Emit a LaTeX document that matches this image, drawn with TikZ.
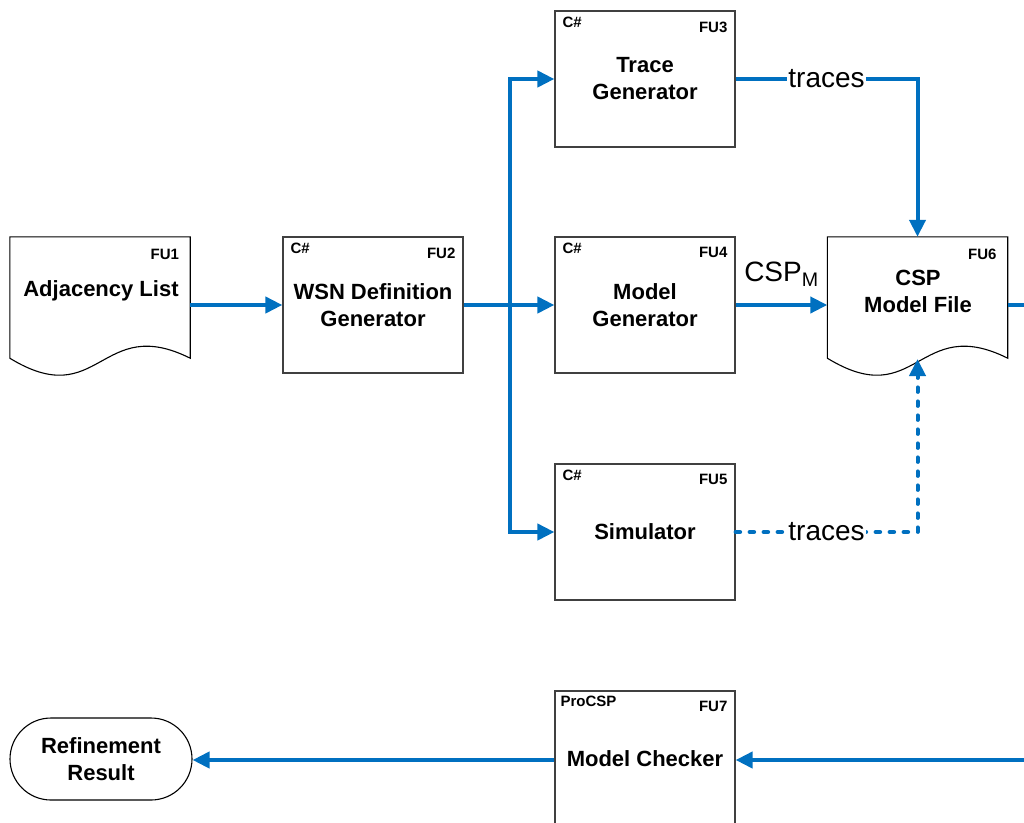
\documentclass[tikz,border=0pt]{standalone}
\usepackage{fontspec}
\setmainfont{Liberation Sans}
\usetikzlibrary{arrows.meta}
\definecolor{flowblue}{HTML}{0070C0}
\definecolor{edgegray}{HTML}{404040}

\begin{document}
\begin{tikzpicture}[x=1pt,y=-1pt,
  unit/.style={draw=edgegray, line width=1.2pt, minimum width=180pt, minimum height=136pt,
    inner sep=0pt, align=center, font=\bfseries\fontsize{22}{27}\selectfont},
  docarea/.style={minimum width=180pt, minimum height=121pt, inner sep=0pt},
  docline/.style={draw=black, line width=1.1pt},
  doctext/.style={align=center, inner sep=0pt, font=\bfseries\fontsize{22}{27}\selectfont},
  tag/.style={inner sep=0pt, font=\bfseries\fontsize{15}{18}\selectfont},
  flow/.style={draw=flowblue, line width=4pt, -{Triangle[length=17pt,width=16pt]}},
  link/.style={draw=flowblue, line width=4pt},
  dotflow/.style={flow, line cap=round, dash pattern=on 4.5pt off 9.5pt},
  lbl/.style={fill=white, inner sep=1pt, font=\fontsize{28}{32}\selectfont},
]
\useasboundingbox (0,0) rectangle (1024,822);
\clip (0,0) rectangle (1024,822);

% ---- document shapes (wavy bottom) ----
\node[docarea] (fu1) at (100,297.5) {};
\draw[docline] (fu1.south east) .. controls +(-90,-45) and +(90,55) .. (fu1.south west)
  -- (fu1.north west) -- (fu1.north east) -- cycle;
\node[doctext] (fu1t) at (101,291) {Adjacency List};
\node[tag, anchor=north east] (fu1tag) at ([shift={(-11,12)}]fu1.north east) {FU1};

\node[docarea] (fu6) at (917.5,297.5) {};
\draw[docline] (fu6.south east) .. controls +(-90,-45) and +(90,55) .. (fu6.south west)
  -- (fu6.north west) -- (fu6.north east) -- cycle;
\node[doctext] (fu6t) at (918,291) {CSP\\Model File};
\node[tag, anchor=north east] (fu6tag) at ([shift={(-11,12)}]fu6.north east) {FU6};
\coordinate (fu6in) at (917.5,359);

% ---- processing units ----
\node[unit] (fu2) at (373,305) {WSN Definition\\Generator};
\node[unit] (fu3) at (645,79) {Trace\\Generator};
\node[unit] (fu4) at (645,305) {Model\\Generator};
\node[unit] (fu5) at (645,532) {Simulator};
\node[unit] (fu7) at (645,759) {Model Checker};

\foreach \u/\t in {fu2/FU2,fu3/FU3,fu4/FU4,fu5/FU5}{
  \node[tag, anchor=north west] (\u lang) at ([shift={(8,6)}]\u.north west) {C\#};
  \node[tag, anchor=north east] (\u tag) at ([shift={(-8,11)}]\u.north east) {\t};
}
\node[tag, anchor=north west] (fu7lang) at ([shift={(6,5)}]fu7.north west) {ProCSP};
\node[tag, anchor=north east] (fu7tag) at ([shift={(-8,11)}]fu7.north east) {FU7};

% ---- terminator ----
\node[draw=black, line width=1.1pt, rounded corners=41pt, minimum width=182pt,
  minimum height=82pt, inner sep=0pt, align=center,
  font=\bfseries\fontsize{22}{27}\selectfont] (res) at (101,759) {Refinement\\Result};

% ---- connectors ----
\coordinate (split) at (510,305);
\coordinate (offr) at (1040,305);
\coordinate (offb) at (1040,760);

\draw[flow] (fu1.east |- fu2.west) -- (fu2.west);
\draw[flow] (fu2.east) -- (fu4.west);
\draw[flow] (split) |- (fu3.west);
\draw[flow] (split) |- (fu5.west);

\draw[flow] (fu3.east) -| node[lbl, pos=0.25] {traces} (fu6.north);
\draw[flow] (fu4.east) -- node[inner sep=0pt, above=17pt, font=\fontsize{28}{32}\selectfont]
  {CSP\textsubscript{M}} (fu6.west |- fu4.east);
\draw[dotflow] (fu5.east) -| node[lbl, pos=0.25] {traces} (fu6in);

\draw[link] (fu6.east |- fu4.east) -- (offr);
\draw[flow] (offb) -- (fu7.east |- offb);
\draw[flow] (fu7.west |- offb) -- (res.east |- offb);
\end{tikzpicture}
\end{document}
